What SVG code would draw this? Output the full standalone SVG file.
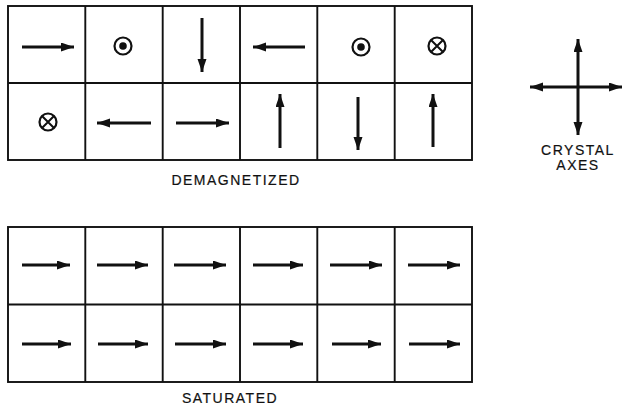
<svg xmlns="http://www.w3.org/2000/svg" width="622" height="410" viewBox="0 0 622 410">
  <style>
    .grid { fill: none; stroke: #111; stroke-width: 1.9; }
    .arrow { stroke: #111; stroke-width: 3; fill: none; marker-end: url(#head); }
    .ring { fill: none; stroke: #111; stroke-width: 2.2; }
    .dot { fill: #111; }
    .label { font-family: "Liberation Sans", Arial, sans-serif; font-size: 14px; fill: #111; stroke: #111; stroke-width: 0.2; letter-spacing: 1.5px; text-anchor: middle; }
  </style>
  <defs>
    <marker id="head" markerUnits="userSpaceOnUse" markerWidth="15" markerHeight="10" refX="13" refY="4.5" orient="auto-start-reverse">
      <path d="M0,0 L13,4.5 L0,9 Z" fill="#111"/>
    </marker>
    <g id="out">
      <circle class="ring" r="8.5"/>
      <circle class="dot" r="3.8"/>
    </g>
    <g id="in">
      <circle class="ring" r="8.5"/>
      <path d="M-6,-6 L6,6 M6,-6 L-6,6" stroke="#111" stroke-width="2"/>
    </g>
  </defs>

  <!-- demagnetized crystal: 6 x 2 domains -->
  <g id="demagnetized-grid">
    <rect class="grid" x="8" y="6" width="464" height="154"/>
    <path class="grid" d="M8,83 H472 M85.3,6 V160 M162.7,6 V160 M240,6 V160 M317.3,6 V160 M394.7,6 V160"/>
  </g>
  <g id="demagnetized-domains">
    <line class="arrow" x1="22" y1="47" x2="74" y2="47"/>
    <use href="#out" x="123" y="46"/>
    <line class="arrow" x1="202" y1="18" x2="202" y2="72"/>
    <line class="arrow" x1="305" y1="47" x2="253" y2="47"/>
    <use href="#out" x="361" y="47"/>
    <use href="#in" x="437" y="46"/>

    <use href="#in" x="48" y="122"/>
    <line class="arrow" x1="151" y1="123" x2="97" y2="123"/>
    <line class="arrow" x1="176" y1="123" x2="229" y2="123"/>
    <line class="arrow" x1="280" y1="148" x2="280" y2="94"/>
    <line class="arrow" x1="358" y1="97" x2="358" y2="150"/>
    <line class="arrow" x1="433" y1="147" x2="433" y2="94"/>
  </g>
  <text id="demagnetized-label" class="label" x="236" y="185">DEMAGNETIZED</text>

  <!-- crystal axes -->
  <g id="crystal-axes">
    <line class="arrow" x1="578" y1="88" x2="578" y2="39" />
    <line class="arrow" x1="578" y1="86" x2="578" y2="135" />
    <line class="arrow" x1="579" y1="87" x2="530" y2="87" />
    <line class="arrow" x1="577" y1="87" x2="622" y2="87" />
    <text class="label" x="578" y="155">CRYSTAL</text>
    <text class="label" x="578" y="170">AXES</text>
  </g>

  <!-- saturated crystal: all domains aligned -->
  <g id="saturated-grid">
    <rect class="grid" x="8" y="227" width="464" height="155"/>
    <path class="grid" d="M8,304.5 H472 M85.3,227 V382 M162.7,227 V382 M240,227 V382 M317.3,227 V382 M394.7,227 V382"/>
  </g>
  <g id="saturated-domains">
    <line class="arrow" x1="22" y1="265" x2="70" y2="265"/>
    <line class="arrow" x1="97" y1="265" x2="148" y2="265"/>
    <line class="arrow" x1="174" y1="265" x2="226" y2="265"/>
    <line class="arrow" x1="253" y1="265" x2="303" y2="265"/>
    <line class="arrow" x1="330" y1="265" x2="382" y2="265"/>
    <line class="arrow" x1="408" y1="265" x2="460" y2="265"/>

    <line class="arrow" x1="22" y1="344" x2="71" y2="344"/>
    <line class="arrow" x1="98" y1="344" x2="148" y2="344"/>
    <line class="arrow" x1="175" y1="344" x2="226" y2="344"/>
    <line class="arrow" x1="253" y1="344" x2="303" y2="344"/>
    <line class="arrow" x1="332" y1="344" x2="381" y2="344"/>
    <line class="arrow" x1="409" y1="344" x2="460" y2="344"/>
  </g>
  <text id="saturated-label" class="label" x="230" y="403">SATURATED</text>
</svg>
